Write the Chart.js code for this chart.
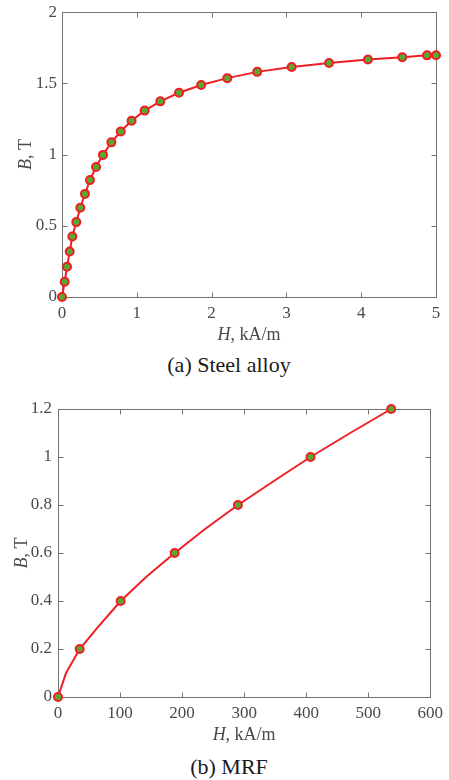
<!DOCTYPE html>
<html>
<head>
<meta charset="utf-8">
<script src="https://cdn.jsdelivr.net/npm/chart.js@4.4.0/dist/chart.umd.min.js"></script>
<style>
    body { margin: 0; background: #fff; }
    #page { position: relative; width: 449px; height: 780px; overflow: hidden; }
    canvas { position: absolute; left: 0; }
    .cap { position: absolute; left: 0; width: 458px; text-align: center; font-family: 'Liberation Serif', 'Times New Roman', serif; font-size: 22px; line-height: 24px; color: #1a1a1a; }
</style>
</head>
<body>
<div id="page">
    <canvas id="graficoAcero" width="449" height="353" style="top:-3px"></canvas>
    <div class="cap" style="top:353px">(a) Steel alloy</div>
    <canvas id="graficoMRF" width="449" height="370" style="top:380px"></canvas>
    <div class="cap" style="top:755px">(b) MRF</div>
</div>
<script>
// curva B-H del acero (H en kA/m, B en T)
const aceroH = [0, 0.036, 0.067, 0.103, 0.138, 0.191, 0.245, 0.307, 0.374, 0.455, 0.548, 0.66, 0.785, 0.93,
    1.105, 1.314, 1.564, 1.86, 2.21, 2.61, 3.07, 3.57, 4.09, 4.55, 4.88, 5.0];
const aceroB = [0, 0.107, 0.213, 0.319, 0.425, 0.526, 0.627, 0.724, 0.821, 0.913, 0.998, 1.086, 1.162, 1.238,
    1.309, 1.374, 1.434, 1.489, 1.537, 1.581, 1.615, 1.643, 1.668, 1.684, 1.697, 1.698];
const aceroTicksX = [0, 1, 2, 3, 4, 5];
const aceroTicksY = [0, 0.5, 1, 1.5, 2];

// curva B-H del fluido MR: linea y puntos marcados
const mrfLineaH = [0, 13, 35, 64, 101, 142, 188, 237, 290, 348, 407, 471, 537];
const mrfLineaB = [0, 0.1, 0.2, 0.29, 0.4, 0.5, 0.6, 0.7, 0.8, 0.9, 1.0, 1.1, 1.2];
const mrfH = [0, 35, 101, 188, 290, 407, 537];
const mrfB = [0, 0.2, 0.4, 0.6, 0.8, 1.0, 1.2];
const mrfTicksX = [0, 100, 200, 300, 400, 500, 600];
const mrfTicksY = [0, 0.2, 0.4, 0.6, 0.8, 1, 1.2];

const tituloX = [['H', 'italic '], [', kA/m', '']];
const tituloY = [['B', 'italic '], [', T', '']];

const rojo = '#ee1f24';
const verde = '#5aa832';
const gris = '#737373';
const grisTexto = '#4a4a4a';
const fuente = "'Liberation Serif', 'Times New Roman', serif";

function texto(ctx, partes, cx, cy) {
    let total = 0;
    partes.forEach(p => { ctx.font = p[1] + '18px ' + fuente; total += ctx.measureText(p[0]).width; });
    let x = cx - total / 2;
    partes.forEach(p => {
        ctx.font = p[1] + '18px ' + fuente;
        ctx.fillText(p[0], x, cy);
        x += ctx.measureText(p[0]).width;
    });
}

// caja con marcas hacia adentro, estilo matlab
const cajaPlugin = {
    id: 'caja',
    beforeDatasetsDraw(chart) {
        const {ctx, chartArea: a, scales: {x, y}} = chart;
        const l = Math.round(a.left) + 0.5, r = Math.round(a.right) + 0.5;
        const t = Math.round(a.top) + 0.5, b = Math.round(a.bottom) + 0.5;
        ctx.save();
        ctx.strokeStyle = gris;
        ctx.lineWidth = 1;
        ctx.strokeRect(l, t, r - l, b - t);
        ctx.beginPath();
        x.ticks.forEach((tk, i) => {
            const px = Math.round(x.getPixelForTick(i)) + 0.5;
            ctx.moveTo(px, b); ctx.lineTo(px, b - 5);
            ctx.moveTo(px, t); ctx.lineTo(px, t + 5);
        });
        y.ticks.forEach((tk, i) => {
            const py = Math.round(y.getPixelForTick(i)) + 0.5;
            ctx.moveTo(l, py); ctx.lineTo(l + 5, py);
            ctx.moveTo(r, py); ctx.lineTo(r - 5, py);
        });
        ctx.stroke();
        ctx.restore();
    },
    afterDraw(chart) {
        const {ctx, chartArea: a} = chart;
        ctx.save();
        ctx.fillStyle = grisTexto;
        ctx.textBaseline = 'middle';
        ctx.textAlign = 'left';
        texto(ctx, tituloX, (a.left + a.right) / 2, a.bottom + 38);
        ctx.translate(a.left - 35.5, (a.top + a.bottom) / 2);
        ctx.rotate(-Math.PI / 2);
        texto(ctx, tituloY, 0, 0);
        ctx.restore();
    }
};

function escalas(tx, ty, anchoY, altoX, padY) {
    return {
        x: {
            type: 'linear',
            min: tx[0], max: tx[tx.length - 1],
            afterBuildTicks: s => { s.ticks = tx.map(v => ({value: v})); },
            afterFit: s => { s.height = altoX; },
            grid: {display: false, drawTicks: false},
            border: {display: false},
            ticks: {color: grisTexto, font: {family: fuente, size: 17}, padding: 6, maxRotation: 0,
                callback: v => String(+v.toFixed(2))}
        },
        y: {
            type: 'linear',
            min: ty[0], max: ty[ty.length - 1],
            afterBuildTicks: s => { s.ticks = ty.map(v => ({value: v})); },
            afterFit: s => { s.width = anchoY; },
            grid: {display: false, drawTicks: false},
            border: {display: false},
            ticks: {color: grisTexto, font: {family: fuente, size: 17}, padding: padY,
                callback: v => String(+v.toFixed(2))}
        }
    };
}

const estiloPunto = {
    borderColor: rojo,
    pointBorderColor: rojo,
    pointBackgroundColor: verde,
    pointRadius: 4,
    pointBorderWidth: 2,
    pointHoverRadius: 4,
    clip: false
};

new Chart(document.getElementById('graficoAcero').getContext('2d'), {
    type: 'scatter',
    data: {
        datasets: [{
            data: aceroH.map((h, i) => ({x: h, y: aceroB[i]})),
            showLine: true,
            borderWidth: 2,
            tension: 0,
            ...estiloPunto
        }]
    },
    options: {
        responsive: false,
        animation: false,
        layout: {padding: {left: 0, right: 13, top: 0, bottom: 0}},
        plugins: {legend: {display: false}, tooltip: {enabled: false}},
        scales: escalas(aceroTicksX, aceroTicksY, 62, 53, 5)
    },
    plugins: [cajaPlugin]
});

new Chart(document.getElementById('graficoMRF').getContext('2d'), {
    type: 'scatter',
    data: {
        datasets: [
            {
                data: mrfH.map((h, i) => ({x: h, y: mrfB[i]})),
                showLine: false,
                ...estiloPunto
            },
            {
                data: mrfLineaH.map((h, i) => ({x: h, y: mrfLineaB[i]})),
                showLine: true,
                borderColor: rojo,
                borderWidth: 2,
                pointRadius: 0,
                tension: 0,
                clip: false
            }
        ]
    },
    options: {
        responsive: false,
        animation: false,
        layout: {padding: {left: 0, right: 16, top: 29, bottom: 0}},
        plugins: {legend: {display: false}, tooltip: {enabled: false}},
        scales: escalas(mrfTicksX, mrfTicksY, 58, 53, 6)
    },
    plugins: [cajaPlugin]
});
</script>
</body>
</html>
